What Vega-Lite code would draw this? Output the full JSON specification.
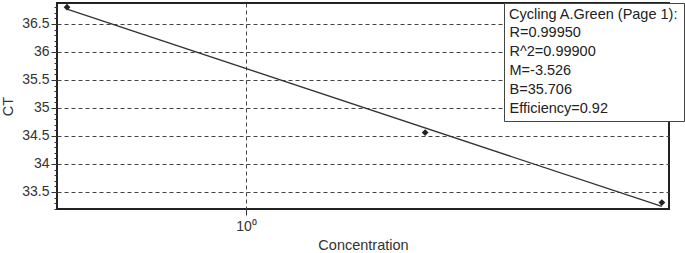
{
  "$schema": "https://vega.github.io/schema/vega-lite/v6.json",
  "width": 612,
  "height": 206,
  "autosize": "none",
  "padding": {"left": 57, "top": 3, "right": 16, "bottom": 44},
  "background": "white",
  "config": {
    "view": {"stroke": "#222", "strokeWidth": 2},
    "font": "Liberation Sans",
    "axis": {"labelFont": "Liberation Sans", "titleFont": "Liberation Sans", "labelColor": "#333", "titleColor": "#333", "labelFontSize": 14, "titleFontSize": 14.5, "titleFontWeight": "normal", "domain": false, "tickColor": "#333", "gridColor": "#444", "gridDash": [4, 3], "gridWidth": 1, "labelOverlap": false}
  },
  "datasets": {
    "fit": [
      {"conc": 0.5, "ct": 36.767},
      {"conc": 5, "ct": 33.241}
    ],
    "samples": [
      {"conc": 0.5, "ct": 36.80},
      {"conc": 2, "ct": 34.56},
      {"conc": 5, "ct": 33.31}
    ],
    "info": [
      {"info": "R=0.99950"},
      {"info": "R^2=0.99900"},
      {"info": "M=-3.526"},
      {"info": "B=35.706"},
      {"info": "Efficiency=0.92"}
    ]
  },
  "resolve": {"axis": {"y": "independent"}},
  "layer": [
    {
      "data": {"name": "fit"},
      "mark": {"type": "line", "color": "#333", "strokeWidth": 1.3},
      "encoding": {
        "x": {
          "field": "conc", "type": "quantitative",
          "scale": {"type": "log", "domain": [0.481, 5.14], "nice": false},
          "axis": {"title": "Concentration", "values": [1], "labelExpr": "'10⁰'", "tickSize": 6, "labelPadding": 4, "titlePadding": 5, "grid": true}
        },
        "y": {
          "field": "ct", "type": "quantitative",
          "scale": {"domain": [33.196, 36.875], "nice": false, "zero": false},
          "axis": {
            "title": "CT", "orient": "left",
            "values": [33.5, 34, 34.5, 35, 35.5, 36, 36.5],
            "labelExpr": "'' + datum.value",
            "tickSize": 6,
            "labelPadding": 2,
            "titlePadding": 6,
            "grid": true
          }
        }
      }
    },
    {
      "data": {"name": "samples"},
      "mark": {"type": "point", "shape": "diamond", "filled": true, "color": "#222", "size": 45, "opacity": 1},
      "encoding": {
        "x": {"field": "conc", "type": "quantitative"},
        "y": {
          "field": "ct", "type": "quantitative",
          "axis": {
            "title": null, "orient": "left", "labels": false, "grid": false, "tickSize": 3,
            "values": [33.2, 33.3, 33.4, 33.6, 33.7, 33.8, 33.9, 34.1, 34.2, 34.3, 34.4, 34.6, 34.7, 34.8, 34.9, 35.1, 35.2, 35.3, 35.4, 35.6, 35.7, 35.8, 35.9, 36.1, 36.2, 36.3, 36.4, 36.6, 36.7, 36.8]
          }
        }
      }
    },
    {
      "data": {"name": "info"},
      "mark": {"type": "point", "opacity": 0},
      "encoding": {
        "color": {
          "field": "info", "type": "nominal",
          "scale": {"domain": ["R=0.99950", "R^2=0.99900", "M=-3.526", "B=35.706", "Efficiency=0.92"], "range": ["#222", "#222", "#222", "#222", "#222"]},
          "legend": {
            "title": "Cycling A.Green (Page 1):",
            "orient": "none", "legendX": 447, "legendY": 0,
            "fillColor": "white", "strokeColor": "#444", "padding": 5,
            "titleFontSize": 14.5, "titleFontWeight": "normal", "titleColor": "#222", "titlePadding": 3, "titleFont": "Liberation Sans",
            "labelFontSize": 14.5, "labelColor": "#222", "labelFont": "Liberation Sans", "labelOffset": -14,
            "symbolSize": 0, "symbolOpacity": 0, "rowPadding": 4
          }
        }
      }
    }
  ]
}
